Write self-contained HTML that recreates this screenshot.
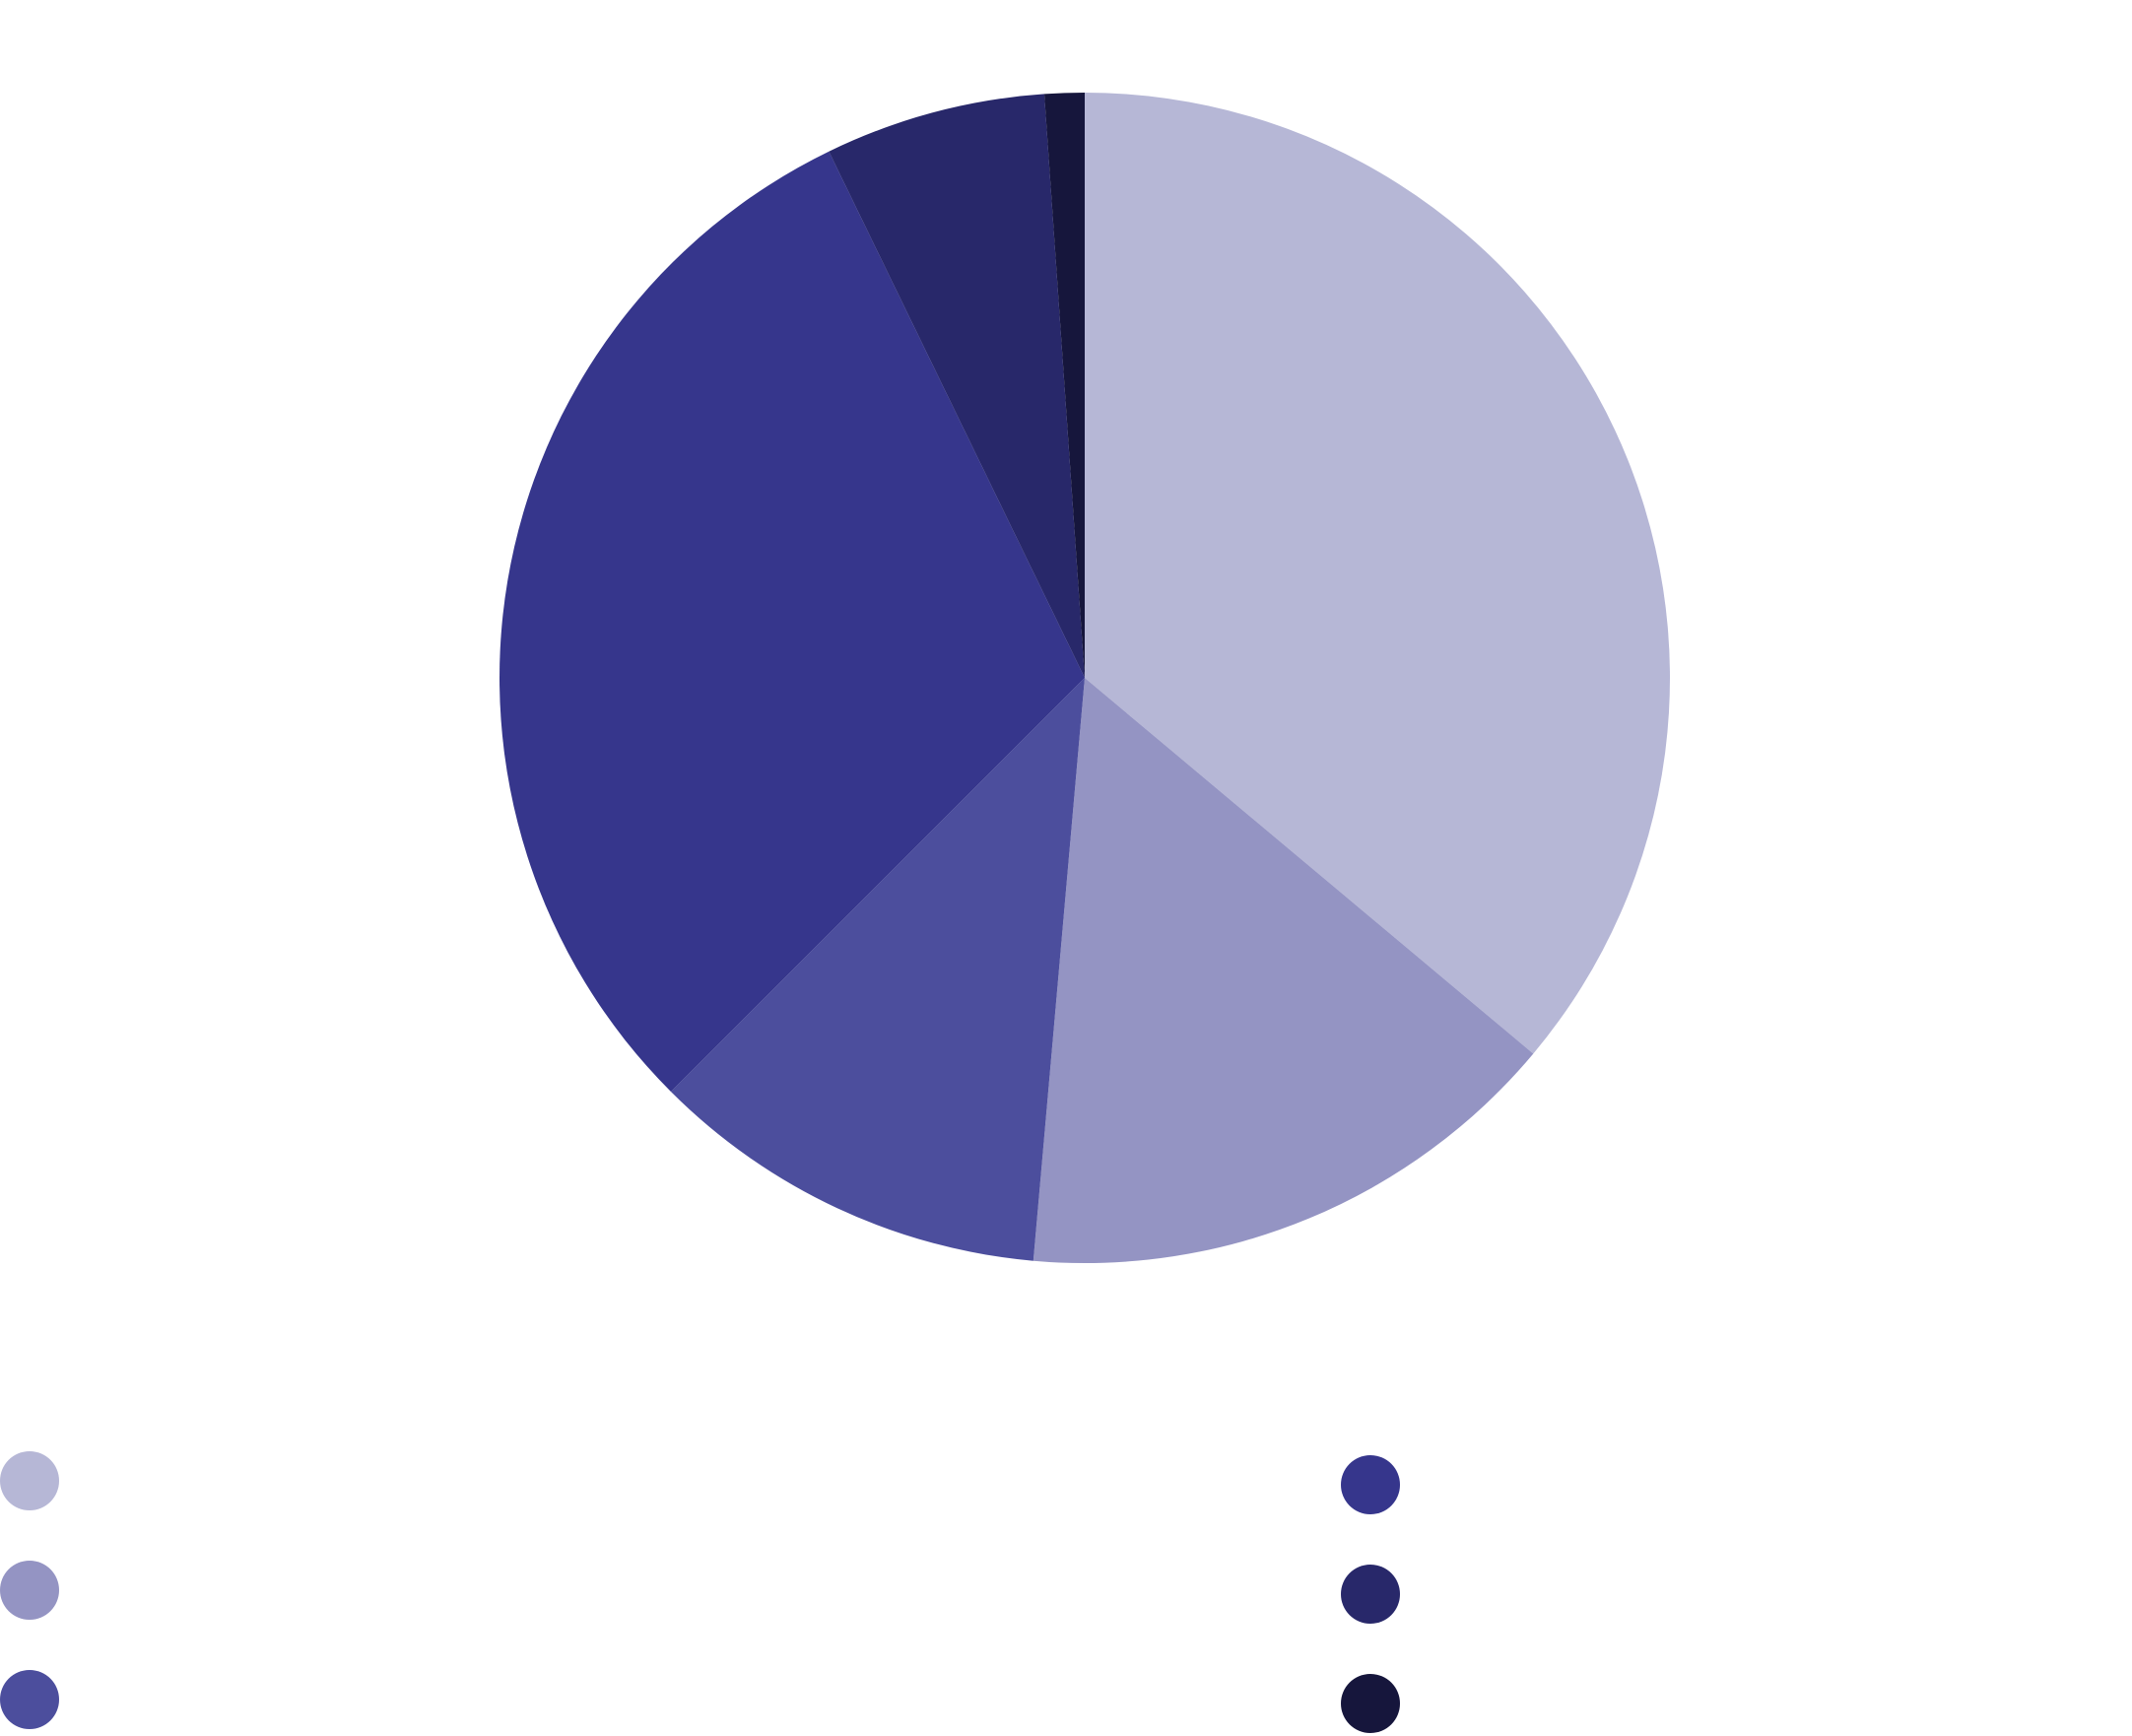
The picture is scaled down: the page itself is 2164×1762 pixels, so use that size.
<!DOCTYPE html>
<html><head><meta charset="utf-8"><style>
html,body{margin:0;padding:0;background:#fff;width:2164px;height:1762px;overflow:hidden;font-family:"Liberation Sans",sans-serif}
</style></head><body>
<svg id="chart" width="2164" height="1762" xmlns="http://www.w3.org/2000/svg"></svg>
<script>
const categories = ["A","B","C","D","E","F"];
const values = [36.1, 15.3, 11.1, 30.3, 6.1, 1.1];
const colors = ["#b6b7d6","#9494c3","#4c4e9d","#36368c","#28286a","#16163c"];
const svg = document.getElementById('chart');
const NS = "http://www.w3.org/2000/svg";
const cx = 1101, cy = 688, r = 594;
const total = values.reduce((a,b)=>a+b,0);
let acc = 0;
function pt(frac){const a = frac*2*Math.PI; return [cx + r*Math.sin(a), cy - r*Math.cos(a)];}
values.forEach((v,i)=>{
  const s = acc/total; acc += v; const e = acc/total;
  const [x1,y1] = pt(s), [x2,y2] = pt(e);
  const large = (e-s) > 0.5 ? 1 : 0;
  const p = document.createElementNS(NS,'path');
  p.setAttribute('d', `M${cx},${cy} L${x1},${y1} A${r},${r} 0 ${large} 1 ${x2},${y2} Z`);
  p.setAttribute('fill', colors[i]);
  
  
  svg.appendChild(p);
});
const legendPos = [[30,1503],[30,1614],[30,1725],[1391,1507],[1391,1618],[1391,1729]];
categories.forEach((c,i)=>{
  const dot = document.createElementNS(NS,'circle');
  dot.setAttribute('cx', legendPos[i][0]);
  dot.setAttribute('cy', legendPos[i][1]);
  dot.setAttribute('r', 30);
  dot.setAttribute('fill', colors[i]);
  
  
  svg.appendChild(dot);
});
</script>
</body></html>
